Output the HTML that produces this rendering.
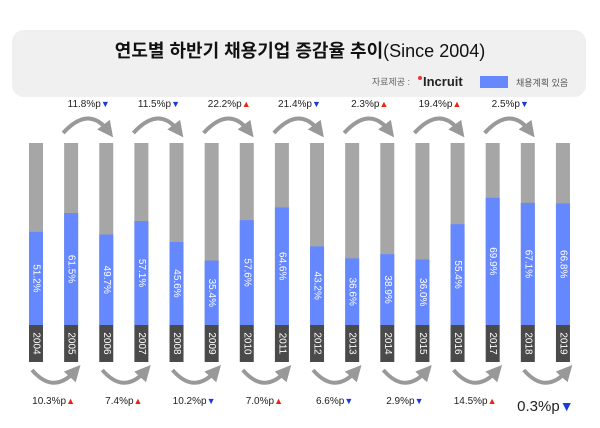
<!DOCTYPE html>
<html><head><meta charset="utf-8"><style>
body{margin:0;background:#fff;width:600px;height:423px;overflow:hidden;font-family:"Liberation Sans","Noto Sans CJK KR",sans-serif}
</style></head><body>
<svg id="c" width="600" height="423" xmlns="http://www.w3.org/2000/svg">
<defs><marker id="ah" markerWidth="4" markerHeight="4" refX="2" refY="2" orient="auto"><path d="M0,0 L4,2 L0,4 z" fill="#999"/></marker></defs>
<rect x="12" y="30" width="574" height="67" rx="12" fill="#f0f0f0"/>
<text x="300" y="57" text-anchor="middle" font-size="18" font-weight="bold" fill="#111">연도별 하반기 채용기업 증감율 추이<tspan font-weight="normal">(Since 2004)</tspan></text>
<text x="410" y="85" text-anchor="end" font-size="9" fill="#666">자료제공 :</text>
<text x="423" y="86" font-size="13" font-weight="bold" fill="#222">Incruit</text>
<circle cx="420" cy="78" r="2" fill="#e33"/>
<rect x="480" y="76" width="28" height="12" fill="#6688ff"/>
<text x="516" y="86" font-size="9" fill="#555">채용계획 있음</text>
<g id="g"></g>
</svg>
<script>
const years=["2004","2005","2006","2007","2008","2009","2010","2011","2012","2013","2014","2015","2016","2017","2018","2019"];
const values=[51.2,61.5,49.7,57.1,45.6,35.4,57.6,64.6,43.2,36.6,38.9,36.0,55.4,69.9,67.1,66.8];
const changeLabels=["10.3%p","11.8%p","7.4%p","11.5%p","10.2%p","22.2%p","7.0%p","21.4%p","6.6%p","2.3%p","2.9%p","19.4%p","14.5%p","2.5%p","0.3%p"];
const changeUp=[true,false,true,false,false,true,true,false,false,true,false,true,true,false,false];
const NS="http://www.w3.org/2000/svg",gEl=document.getElementById('g');
const X0=36,STEP=35.13,BW=14,TOPY=143,BASEY=325,YB=362;
const xs=i=>X0+i*STEP;
const ys=v=>BASEY-(BASEY-TOPY)*v/100;
function el(t,a,p){const e=document.createElementNS(NS,t);for(const k in a)e.setAttribute(k,a[k]);(p||gEl).appendChild(e);return e;}
years.forEach((yr,i)=>{
  const x=xs(i)-BW/2;
  const gr=el('rect',{x:x,y:TOPY,width:BW,height:BASEY-TOPY,fill:'#a6a6a6'});
  
  
  const b=el('rect',{x:x,y:ys(values[i]),width:BW,height:BASEY-ys(values[i]),fill:'#6688ff'});
  
  
  const yr2=el('rect',{x:x,y:BASEY,width:BW,height:YB-BASEY,fill:'#4a4a4a'});
  
  
  const cy=(BASEY+YB)/2;
  const t=el('text',{x:xs(i),y:cy,'text-anchor':'middle','dominant-baseline':'central','font-size':10,fill:'#fff',transform:`rotate(90 ${xs(i)} ${cy})`});
  t.textContent=yr;
  
  
  const my=(ys(values[i])+BASEY)/2;
  const v=el('text',{x:xs(i),y:my,'text-anchor':'middle','dominant-baseline':'central','font-size':10,fill:'#fff',transform:`rotate(90 ${xs(i)} ${my})`});
  v.textContent=values[i].toFixed(1)+'%';
  
  
});
changeLabels.forEach((lab,i)=>{
  const xa=xs(i),xb=xs(i+1),mx=(xa+xb)/2,isTop=i%2===1,big=i===14;
  let p;
  if(isTop){p=el('path',{d:`M${xa-8},133 Q${mx},105 ${xb+2},131`,fill:'none',stroke:'#999','stroke-width':4,'marker-end':'url(#ah)'});}
  else{p=el('path',{d:`M${xa-4},370 Q${mx},395 ${xb+4},371`,fill:'none',stroke:'#999','stroke-width':4,'marker-end':'url(#ah)'});}
  
  
  const ty=isTop?107:(big?411:404);
  const t=el('text',{x:mx,y:ty,'text-anchor':'middle','font-size':big?15:10,fill:'#222'});
  t.textContent=lab;
  const s=el('tspan',{fill:changeUp[i]?'#e21':'#1a3bd8','font-size':big?14:9},t);
  s.textContent=changeUp[i]?'▲':'▼';
  
  
});
</script>
</body></html>
